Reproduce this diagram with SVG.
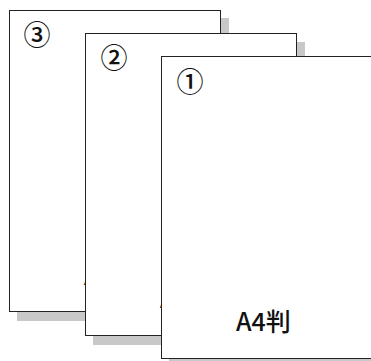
<svg xmlns="http://www.w3.org/2000/svg" width="371" height="361" viewBox="0 0 371 361">
<style>
.shadow{fill:#c8c8c8;stroke:none}
.page{fill:#fff;stroke:#222;stroke-width:1}
.num{font-family:"Noto Sans CJK JP","Noto Sans",sans-serif;font-size:27px;font-weight:500;fill:#111;text-anchor:middle}
.lbl{font-family:"Noto Sans CJK JP","Noto Sans",sans-serif;font-size:25px;font-weight:500;fill:#111}
</style>
<rect width="371" height="361" fill="#fff"/>
<g id="page3">
<rect class="shadow" x="17" y="18" width="212" height="303"/>
<rect class="page" x="9.5" y="10.5" width="211" height="301"/>
<text class="num" x="37" y="45">③</text>
<text class="lbl" x="84" y="285">A4判</text>
</g>
<g id="page2">
<rect class="shadow" x="93" y="42" width="212" height="303"/>
<rect class="page" x="85.5" y="33.5" width="211" height="302"/>
<text class="num" x="114" y="68">②</text>
<text class="lbl" x="160" y="308">A4判</text>
</g>
<g id="page1">
<rect class="shadow" x="169" y="65" width="212" height="303"/>
<rect class="page" x="161.5" y="56.5" width="211" height="302"/>
<text class="num" x="190" y="92">①</text>
<text class="lbl" x="236" y="331">A4判</text>
</g>
</svg>
